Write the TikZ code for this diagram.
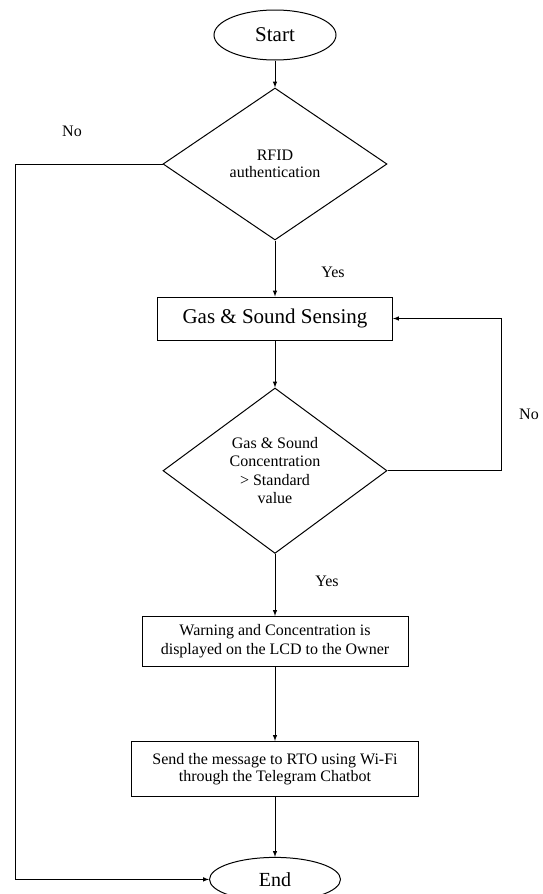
\documentclass[tikz,border=0pt]{standalone}
\usepackage{fontspec}
\setmainfont{Liberation Serif}
\usetikzlibrary{arrows,shapes.geometric,positioning}
\tikzset{
  basic/.style    = {draw, line width=1pt, inner sep=2pt, align=center},
  terminal/.style = {basic, ellipse, minimum width=131pt, minimum height=46pt,
                     font=\fontsize{20}{22}\selectfont},
  decision/.style = {basic, diamond, minimum width=224pt, minimum height=152pt,
                     font=\fontsize{16}{17.5}\selectfont},
  process/.style  = {basic, rectangle, font=\fontsize{16}{19}\selectfont},
  lbl/.style      = {font=\fontsize{16}{18}\selectfont}
}

\begin{document}
\begin{tikzpicture}[x=1pt, y=-1pt, >=latex, line width=1pt]

  \useasboundingbox (0,0) rectangle (542,894);

  % main column, placed one below the other
  \node[terminal, minimum width=122pt, minimum height=50pt,
        font=\fontsize{21}{23}\selectfont] (start) at (275,35) {Start};
  \node[decision, below=27pt of start] (rfid) {RFID\\authentication};
  \node[process, below=56pt of rfid, minimum width=235pt, minimum height=43pt,
        font=\fontsize{21}{23}\selectfont] (sense) {Gas \& Sound Sensing};
  \node[decision, below=47pt of sense, minimum height=161pt, font=\fontsize{16}{18.5}\selectfont] (conc)
       {Gas \& Sound\\Concentration\\> Standard\\value};
  \node[process, below=62pt of conc, minimum width=266pt, minimum height=50pt] (warn)
       {Warning and Concentration is\\displayed on the LCD to the Owner};
  \node[process, below=74pt of warn, minimum width=287pt, minimum height=55pt,
        font=\fontsize{16}{17}\selectfont] (send)
       {Send the message to RTO using Wi-Fi\\through the Telegram Chatbot};
  \node[terminal, below=60pt of send, minimum height=44pt] (end) {End};

  % yes / no labels
  \node[lbl] (no1)  at (72,131)  {No};
  \node[lbl] (yes1) at (333,272) {Yes};
  \node[lbl] (no2)  at (529,414) {No};
  \node[lbl] (yes2) at (327,581) {Yes};

  % rails for the two side paths
  \coordinate (leftrail)  at (15,0);
  \coordinate (rightrail) at (501,0);

  % straight arrows down the column
  \foreach \from/\to in {start/rfid, rfid/sense, sense/conc, conc/warn, warn/send, send/end}
    \draw[->] (\from) -- (\to);

  % no branches
  \draw[->] (rfid.west) -- (rfid.west -| leftrail) |- (end.west);
  \draw[->] (conc.east) -- (conc.east -| rightrail) |- (sense.east);

\end{tikzpicture}
\end{document}
